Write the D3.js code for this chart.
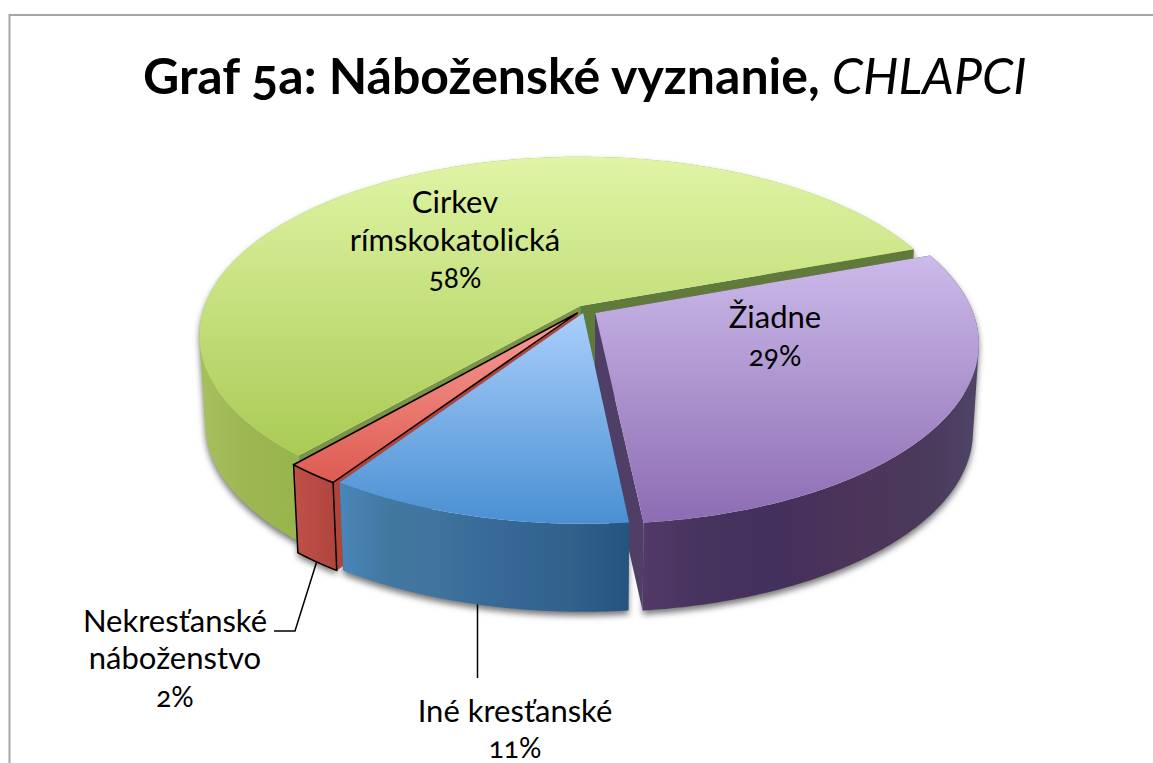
<!DOCTYPE html>
<html><head><meta charset="utf-8">
<script src="https://cdn.jsdelivr.net/npm/d3@7"></script>
<style>
html,body{margin:0;padding:0;background:#fff;overflow:hidden}
text{font-family:Lato,"Noto Sans",sans-serif;fill:#000;font-variant-numeric:oldstyle-nums;font-feature-settings:"onum"}
</style></head><body><svg id="c" width="1153" height="763"></svg>
<script>
const categories=["Žiadne","Iné kresťanské","Nekresťanské náboženstvo","Cirkev rímskokatolická"];
const values=[29,11,2,58];
const percentLabels=["29%","11%","2%","58%"];
const labelLines=[["Žiadne"],["Iné kresťanské"],["Nekresťanské","náboženstvo"],["Cirkev","rímskokatolická"]];
const titleMain="Graf 5a: Náboženské vyznanie, ";
const titleItalic="CHLAPCI";
// layout & style
const explodeU=[0.035,0.003,-0.012,-0.005], explodeV=[0,0,0,-0.04];
const topStops=[["#cdbbea","#8c6cb3"],["#a9cefb","#4a90d2"],["#f89c95","#dc584e"],["#e0f5a6","#a8ca52"]];
const topRange=[[253,522],[315,522],[315,490],[155,462]];
const wallBands=[
 [[640,"#533a68"],[700,"#46335e"],[780,"#44305c"],[860,"#4c3559"],[930,"#4a3a5c"],[980,"#4f4566"]],
 [[338,"#4a86ba"],[390,"#41789f"],[430,"#41749f"],[500,"#376896"],[570,"#30628c"],[630,"#245380"]],
 [[295,"#c05048"],[340,"#ae443c"]],
 [[197,"#a6c15e"],[240,"#9db853"],[300,"#98b44c"]]
];
const sideStart=["#4f3f66","#2f5f8c","#b3443c","#7b9346"];
const sideEnd=["#4f3f66","#2f5f8c","#b3443c","#5f7a3a"];
const labelX=[775,515,175,455];
const labelY=[[328],[722],[632,669],[213,251]];
const percentY=[366,758,707,288];
const cx=582,cy=313,Rx=378,Sy=176,persp=0.165,depth=88,kX=0.985,kY=1.0;
const rot=69.8*Math.PI/180;

const svg=d3.select("#c");
const defs=svg.append("defs");
const xT=d3.scaleLinear().domain([-1,1]).range([cx-Rx,cx+Rx]);
const yT=d3.scaleLinear().domain([-1,1]).range([cy-Sy,cy+Sy]);
const xB=d3.scaleLinear().domain([-1,1]).range([cx-Rx*kX,cx+Rx*kX]);
const yB=d3.scaleLinear().domain([-1,1]).range([cy+depth-Sy*kY,cy+depth+Sy*kY]);
function proj(i,a,r,bottom){
  const u=r*Math.sin(a)+explodeU[i], v=-r*Math.cos(a)+explodeV[i], w=1-persp*v;
  return bottom?[xB(u/w),yB(v/w)]:[xT(u/w),yT(v/w)];
}
const line=d3.line();
const arcs=d3.pie().sort(null).startAngle(rot).endAngle(rot+2*Math.PI)(values);
const rim=(i,bottom)=>d3.range(0,181).map(k=>proj(i,arcs[i].startAngle+(arcs[i].endAngle-arcs[i].startAngle)*k/180,1,bottom));
const topPath=i=>line([proj(i,0,0,false),...rim(i,false)])+"Z";
const sidePath=(i,a)=>line([proj(i,0,0,false),proj(i,a,1,false),proj(i,a,1,true),proj(i,0,0,true)])+"Z";
// the outer wall as one path: a sweep of quads of equal winding, so the fill is their exact union
const wallPath=i=>{
  const t=rim(i,false), b=rim(i,true);
  return d3.range(0,180).map(k=>{
    const q=[t[k],t[k+1],b[k+1],b[k]];
    return line(d3.polygonArea(q)<0?q.reverse():q)+"Z";
  }).join("");
};

values.forEach((_,i)=>{
  const g=defs.append("linearGradient").attr("id","t"+i).attr("gradientUnits","userSpaceOnUse")
    .attr("x1",0).attr("x2",0).attr("y1",topRange[i][0]).attr("y2",topRange[i][1]);
  g.append("stop").attr("offset",0).attr("stop-color",topStops[i][0]);
  g.append("stop").attr("offset",1).attr("stop-color",topStops[i][1]);
  const b=wallBands[i], w=defs.append("linearGradient").attr("id","w"+i).attr("gradientUnits","userSpaceOnUse")
    .attr("x1",b[0][0]).attr("x2",b[b.length-1][0]).attr("y1",0).attr("y2",0);
  b.forEach(s=>w.append("stop").attr("offset",(s[0]-b[0][0])/(b[b.length-1][0]-b[0][0])).attr("stop-color",s[1]));
});
defs.append("filter").attr("id","blur").attr("x","-10%").attr("y","-10%").attr("width","120%").attr("height","120%")
  .append("feGaussianBlur").attr("stdDeviation",3);

// frame
svg.append("path").attr("d","M9.5,763V15H1153").attr("fill","none").attr("stroke","#a6a6a6").attr("stroke-width",2);

// title
const title=svg.append("text").attr("x",143).attr("y",94).style("font-size","50px");
title.append("tspan").attr("font-weight",700).text(titleMain);
title.append("tspan").attr("font-style","italic").attr("font-weight",400).text(titleItalic);

// shadow
const sh=svg.append("g").attr("filter","url(#blur)").attr("transform","translate(0,4)");
values.forEach((_,i)=>sh.append("path").attr("d",wallPath(i)).attr("fill","#777"));

// leaders
const mid=i=>(arcs[i].startAngle+arcs[i].endAngle)/2;
const start1=proj(1,mid(1),1,true), start2=proj(2,mid(2),1,true);
svg.append("path").attr("fill","none").attr("stroke","#000").attr("stroke-width",1.5)
  .attr("d",line([start2,[labelX[2]+120,labelY[2][0]-1],[labelX[2]+99,labelY[2][0]-1]]));
svg.append("path").attr("fill","none").attr("stroke","#000").attr("stroke-width",1.5)
  .attr("d",line([[477.5,start1[1]-4],[477.5,678]]));

// slices, back to front
[3,0,2,1].forEach(i=>{
  const g=svg.append("g");
  const st=i===2?"#000":"none", sw=i===2?1.5:0;
  const sides=()=>{
    g.append("path").attr("d",sidePath(i,arcs[i].startAngle)).attr("fill",sideStart[i]);
    g.append("path").attr("d",sidePath(i,arcs[i].endAngle)).attr("fill",sideEnd[i]);
  };
  if(i!==3) sides();
  g.append("path").attr("d",wallPath(i)).attr("fill",`url(#w${i})`);
  if(i===2) g.append("path").attr("d",line([...rim(i,false),...rim(i,true).reverse()])+"Z").attr("fill","none").attr("stroke",st).attr("stroke-width",sw);
  if(i===3) sides();
  g.append("path").attr("d",topPath(i)).attr("fill",`url(#t${i})`).attr("stroke",st).attr("stroke-width",sw).attr("stroke-linejoin","round");
});

// labels
labelLines.forEach((ls,i)=>{
  ls.forEach((t,j)=>svg.append("text").attr("x",labelX[i]).attr("y",labelY[i][j]).attr("text-anchor","middle").style("font-size","31px").text(t));
  svg.append("text").attr("x",labelX[i]).attr("y",percentY[i]).attr("text-anchor","middle").style("font-size","28px").text(percentLabels[i]);
});
</script></body></html>
